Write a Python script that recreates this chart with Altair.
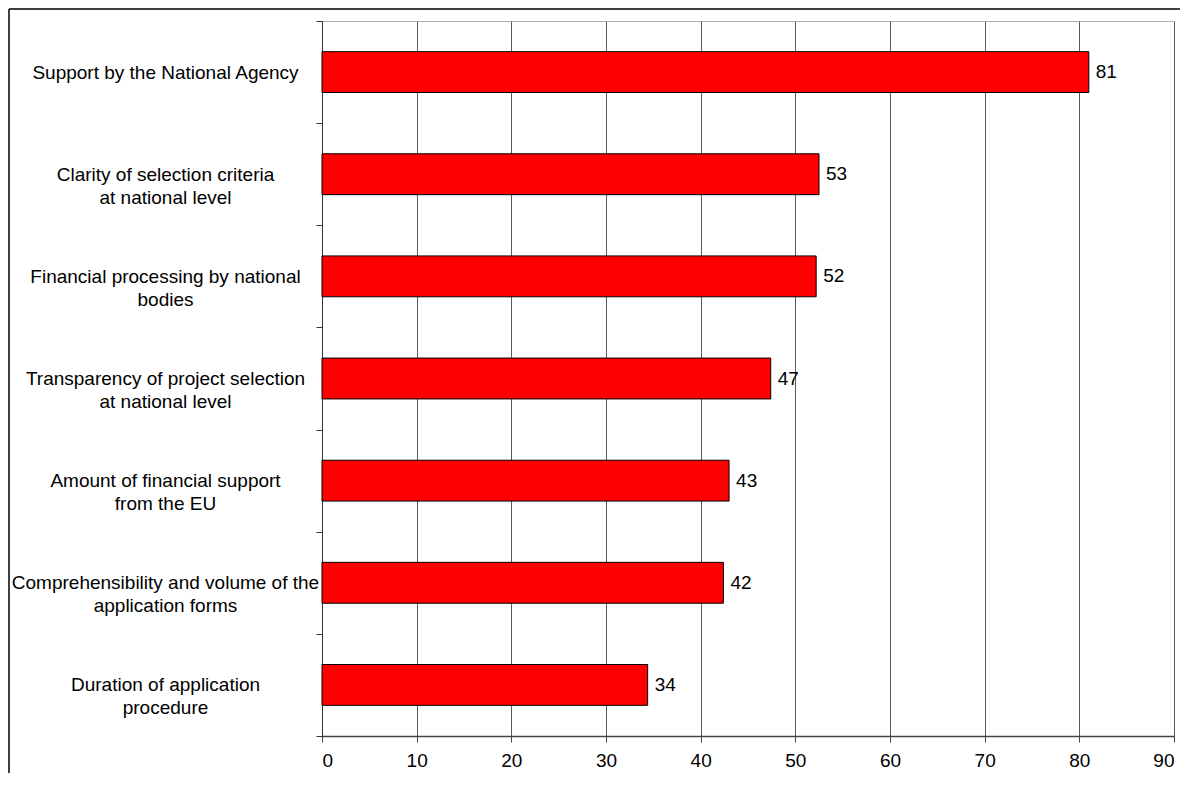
import altair as alt
import pandas as pd

categories = [
    "Support by the National Agency",
    "Clarity of selection criteria\nat national level",
    "Financial processing by national\nbodies",
    "Transparency of project selection\nat national level",
    "Amount of financial support\nfrom the EU",
    "Comprehensibility and volume of the\napplication forms",
    "Duration of application\nprocedure",
]
values = [81.0, 52.5, 52.2, 47.4, 43.0, 42.4, 34.4]
value_labels = ["81", "53", "52", "47", "43", "42", "34"]
x_ticks = [0, 10, 20, 30, 40, 50, 60, 70, 80, 90]

df = pd.DataFrame({"category": categories, "value": values, "label": value_labels})

FONT = "Liberation Sans"
FS = 19

y_enc = alt.Y(
    "category:N",
    sort=None,
    title=None,
    scale=alt.Scale(paddingInner=0, paddingOuter=0),
    axis=alt.Axis(
        labelExpr="split(datum.label, '\\n')",
        labelAlign="center",
        labelBaseline="middle",
        labelPadding=151,
        labelLimit=500,
        labelLineHeight=23,
        labelFont=FONT,
        labelFontSize=FS,
        labelColor="#000000",
        tickBand="extent",
        tickSize=6,
        tickColor="#333333",
        domainColor="#333333",
        grid=False,
    ),
)

x_enc = alt.X(
    "value:Q",
    title=None,
    scale=alt.Scale(domain=[0, 90], nice=False, zero=True),
    axis=alt.Axis(
        values=x_ticks,
        labelFont=FONT,
        labelFontSize=FS,
        labelColor="#000000",
        labelPadding=9,
        tickSize=6,
        tickColor="#444444",
        domainColor="#444444",
        domainWidth=1.5,
        grid=True,
        gridColor="#5a5a5a",
        gridWidth=1,
    ),
)

bars = alt.Chart(df).mark_bar(
    color="#FF0000", stroke="#000000", strokeWidth=1, height={"band": 0.4}
).encode(x=x_enc, y=y_enc)

texts = alt.Chart(df).mark_text(
    align="left", baseline="middle", dx=7, font=FONT, fontSize=FS, color="#000000"
).encode(x="value:Q", y=alt.Y("category:N", sort=None), text="label:N")

frame_data = alt.Data(values=[{}])
frame_top = alt.Chart(frame_data).mark_rule(color="#000000", strokeWidth=1.5).encode(
    x=alt.value(-313), x2=alt.value(858), y=alt.value(-12)
)
frame_left = alt.Chart(frame_data).mark_rule(color="#000000", strokeWidth=1.5).encode(
    x=alt.value(-313), y=alt.value(-12), y2=alt.value(752)
)

chart = (
    alt.layer(bars, texts, frame_top, frame_left)
    .properties(
        width=852,
        height=715,
        padding={"left": 0, "top": 0, "right": 0, "bottom": 0},
        background="#ffffff",
    )
    .configure_view(stroke="#b0b0b0", strokeWidth=1)
)

chart.save("out.html", embed_options={"renderer": "svg", "actions": False})
